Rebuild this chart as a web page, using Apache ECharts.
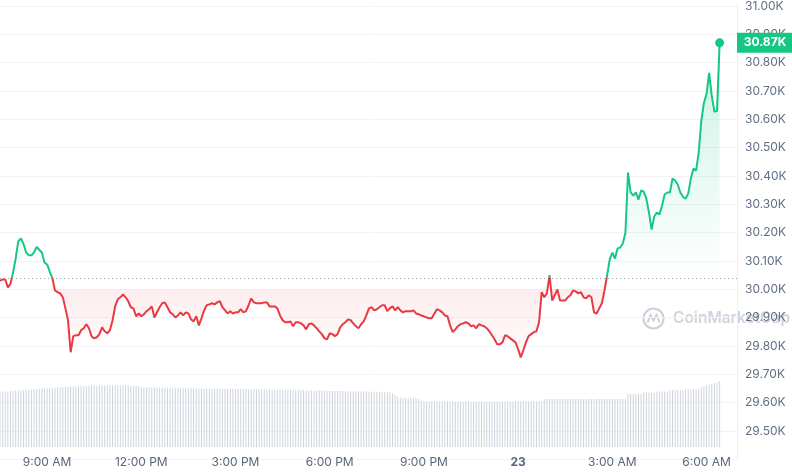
<!DOCTYPE html>
<html>
<head>
<meta charset="utf-8">
<script src="https://cdn.jsdelivr.net/npm/echarts@6/dist/echarts.min.js"></script>
<style>
html,body{margin:0;padding:0;background:#ffffff;}
#chart{width:792px;height:474px;}
</style>
</head>
<body>
<div id="chart"></div>
<script>
// ---- data ----
// BTC price in thousands USD, one value every 5 minutes starting 7:30 AM
const prices = [
30.03,30.035,30.035,30.007,30.02,30.06,30.11,30.17,30.18,30.16,
30.13,30.12,30.12,30.13,30.15,30.14,30.13,30.095,30.088,30.063,
30.04,29.996,29.99,29.986,29.972,29.933,29.89,29.778,29.835,29.838,
29.838,29.856,29.863,29.877,29.863,29.835,29.827,29.831,29.842,29.866,
29.852,29.845,29.856,29.89,29.94,29.965,29.972,29.982,29.972,29.958,
29.937,29.933,29.905,29.915,29.905,29.912,29.923,29.93,29.94,29.901,
29.919,29.937,29.951,29.954,29.937,29.919,29.912,29.901,29.908,29.919,
29.908,29.919,29.915,29.894,29.887,29.905,29.873,29.898,29.926,29.944,
29.947,29.951,29.947,29.954,29.958,29.937,29.926,29.915,29.923,29.915,
29.919,29.919,29.93,29.919,29.923,29.944,29.968,29.954,29.951,29.951,
29.951,29.954,29.954,29.94,29.94,29.94,29.933,29.908,29.891,29.884,
29.884,29.887,29.87,29.884,29.884,29.88,29.873,29.859,29.877,29.88,
29.873,29.863,29.852,29.842,29.827,29.824,29.845,29.842,29.835,29.842,
29.866,29.877,29.884,29.894,29.891,29.88,29.87,29.863,29.877,29.887,
29.908,29.933,29.937,29.926,29.93,29.937,29.944,29.944,29.923,29.933,
29.94,29.926,29.937,29.926,29.919,29.923,29.923,29.923,29.926,29.915,
29.912,29.908,29.905,29.901,29.898,29.898,29.915,29.93,29.926,29.919,
29.908,29.905,29.873,29.849,29.859,29.87,29.877,29.88,29.884,29.88,
29.87,29.873,29.863,29.877,29.873,29.87,29.863,29.852,29.838,29.824,
29.806,29.806,29.813,29.838,29.835,29.827,29.82,29.813,29.789,29.76,
29.785,29.813,29.835,29.842,29.849,29.852,29.884,29.99,29.972,29.986,
30.05,29.961,29.979,30.0,29.961,29.961,29.961,29.972,29.979,29.996,
29.993,29.986,29.99,29.972,29.968,29.979,29.972,29.919,29.915,29.933,
29.951,29.996,30.049,30.106,30.13,30.109,30.144,30.148,30.162,30.2,
30.412,30.342,30.331,30.342,30.317,30.349,30.345,30.32,30.271,30.211,
30.257,30.271,30.264,30.296,30.335,30.342,30.342,30.391,30.384,30.37,
30.342,30.327,30.32,30.338,30.391,30.426,30.419,30.482,30.595,30.658,
30.69,30.764,30.683,30.627,30.63,30.87
];
// volume (billions USD), same 5-minute steps
const volume = [
13.8,13.8,13.9,13.9,14.0,14.0,14.1,14.1,
14.2,14.2,14.3,14.3,14.4,14.4,14.5,14.5,14.6,14.6,14.7,14.7,14.8,14.8,14.9,14.9,15.0,15.0,
15.0,15.1,15.1,15.1,15.2,15.2,15.2,15.2,15.3,15.3,15.3,15.3,15.3,15.3,15.4,15.4,15.4,15.4,15.4,15.4,15.4,15.4,15.4,15.4,15.3,15.3,15.3,15.3,
14.9,14.9,14.9,14.9,14.9,14.9,14.8,14.8,14.8,14.8,14.8,14.8,14.8,14.8,14.7,14.7,14.7,14.7,14.7,14.7,14.7,14.7,14.6,14.6,14.6,14.6,14.6,14.6,14.6,14.6,14.5,14.5,14.5,14.5,14.5,14.5,
14.5,14.5,14.5,14.5,14.5,14.4,14.4,14.4,14.4,14.4,14.4,14.4,14.4,14.3,14.3,14.3,14.3,14.3,14.3,14.3,14.3,14.2,14.2,14.2,14.2,14.2,14.2,
14.1,14.1,14.1,14.1,14.1,14.1,14.1,14.1,14.0,14.0,14.0,14.0,14.0,14.0,14.0,14.0,13.9,13.9,13.9,13.9,13.9,13.9,13.9,13.9,13.8,13.8,13.8,13.8,13.8,13.7,13.7,13.7,13.7,
13.4,13.0,12.5,12.2,12.2,12.2,12.2,12.2,12.2,12.2,12.0,11.6,
11.4,11.4,11.4,11.4,11.4,11.4,11.4,11.4,11.4,11.4,
11.3,11.3,11.3,11.3,11.3,11.3,11.3,11.3,11.3,11.3,11.3,11.3,11.3,11.3,11.3,11.3,11.3,11.3,11.3,11.3,11.3,11.3,11.3,11.3,11.3,11.3,
11.4,11.4,11.4,11.4,11.4,11.4,11.4,11.4,11.4,11.4,
12.0,12.0,12.0,12.0,12.0,12.0,12.0,12.0,12.0,12.0,12.0,12.0,12.0,12.0,12.0,12.0,
12.0,12.0,12.0,12.0,12.0,12.0,12.0,12.0,12.0,12.0,12.0,12.0,12.0,12.0,12.0,12.0,
13.3,13.3,13.3,13.3,13.3,13.3,13.6,13.6,13.6,13.6,13.6,13.6,
13.9,13.9,13.9,13.9,14.2,14.2,14.2,14.2,14.2,14.2,14.4,14.4,14.4,14.4,14.4,14.4,
15.0,15.2,15.4,15.6,15.8,16.0,16.2,16.5
];
const startHour = 7.5;          // 7:30 AM on the 22nd
const stepHours = 5 / 60;       // 5-minute samples
const openPrice = 30.04;        // dotted reference line
const redFillTop = 30.00;
const xTickHours = [9, 12, 15, 18, 21, 24, 27, 30];
const xTickLabels = ['9:00 AM', '12:00 PM', '3:00 PM', '6:00 PM', '9:00 PM', '23', '3:00 AM', '6:00 AM'];
const yMin = 29.4, yMax = 31.0, yStep = 0.1;
const lastTag = '30.87K';

// ---- build series data ----
const xs = prices.map((_, i) => startHour + i * stepHours);
const pts = prices.map((v, i) => [xs[i], v]);
const volPts = volume.map((v, i) => [xs[i], v]);
const gTop = pts.map(p => [p[0], Math.max(p[1], openPrice)]);
const rBot = pts.map(p => [p[0], Math.min(p[1], redFillTop)]);
const lastPt = pts[pts.length - 1];

const GREEN = '#16c784', RED = '#ea3943';
const FONT = 'Inter';
const xMin = 7.5, xMax = 30.97;

const chart = echarts.init(document.getElementById('chart'), null, {renderer: 'canvas'});
chart.setOption({
  animation: false,
  backgroundColor: '#ffffff',
  textStyle: {fontFamily: FONT},
  grid: [
    {left: 0, right: 55, top: 5, bottom: 14.6},
    {left: 0, right: 55, top: 367, bottom: 27}
  ],
  xAxis: [
    {type: 'value', gridIndex: 0, min: xMin, max: xMax, show: false},
    {type: 'value', gridIndex: 1, min: xMin, max: xMax,
     axisLine: {show: false}, axisTick: {show: false}, splitLine: {show: false},
     axisLabel: {
       customValues: xTickHours,
       color: '#58667e', fontSize: 12, fontFamily: FONT, margin: 9,
       formatter: function (v) {
         const k = xTickHours.indexOf(Math.round(v));
         if (k < 0) return '';
         return xTickHours[k] === 24 ? '{b|' + xTickLabels[k] + '}' : xTickLabels[k];
       },
       rich: {b: {fontWeight: 'bold', color: '#58667e', fontSize: 12, fontFamily: FONT}}
     }}
  ],
  yAxis: [
    {type: 'value', gridIndex: 0, position: 'right', min: yMin, max: yMax, interval: yStep,
     axisLine: {show: true, lineStyle: {color: '#eceff3'}},
     axisTick: {show: false},
     splitLine: {show: true, lineStyle: {color: '#f1f3f6'}},
     axisLabel: {
       color: '#616e85', fontSize: 12, fontFamily: FONT, margin: 8,
       formatter: function (v) { return v < yMin + yStep / 2 ? '' : v.toFixed(2) + 'K'; }
     }},
    {type: 'value', gridIndex: 1, min: 0, max: 20, show: false}
  ],
  series: [
    {id: 'price', type: 'line', data: pts, xAxisIndex: 0, yAxisIndex: 0, showSymbol: false, z: 5,
     lineStyle: {width: 2, color: RED}, itemStyle: {color: RED}, silent: true},
    {type: 'line', data: gTop, showSymbol: false, silent: true,
     lineStyle: {opacity: 0}, z: 2,
     areaStyle: {origin: openPrice, color: new echarts.graphic.LinearGradient(0, 0, 0, 1, [
       {offset: 0, color: 'rgba(22,199,132,0.32)'},
       {offset: 1, color: 'rgba(22,199,132,0.0)'}])},
     markLine: {silent: true, symbol: ['none', 'none'], label: {show: false},
       lineStyle: {color: '#9aa1ad', type: [1, 3], width: 1, opacity: 1},
       data: [{yAxis: openPrice}]}},
    {type: 'line', data: rBot, showSymbol: false, silent: true,
     lineStyle: {opacity: 0}, z: 2,
     areaStyle: {origin: redFillTop, color: new echarts.graphic.LinearGradient(0, 0, 0, 1, [
       {offset: 0, color: 'rgba(234,57,67,0.13)'},
       {offset: 1, color: 'rgba(234,57,67,0.02)'}])}},
    {type: 'scatter', data: [lastPt], symbolSize: 9, itemStyle: {color: GREEN, opacity: 1}, z: 6, silent: true,
     markPoint: {
       silent: true, symbol: 'rect', symbolSize: [56, 20], symbolOffset: [28, 0],
       itemStyle: {color: GREEN, opacity: 1},
       label: {show: true, formatter: lastTag, color: '#ffffff', fontWeight: 'bold',
               fontSize: 12, fontFamily: FONT, position: 'inside'},
       data: [{coord: [xMax, lastPt[1]]}]
     }},
    {type: 'bar', data: volPts, xAxisIndex: 1, yAxisIndex: 1, barWidth: 1,
     itemStyle: {color: '#cdd3dd'}, silent: true}
  ],
  graphic: [{
    type: 'group', left: 641, top: 306, z: 100, silent: true,
    children: [
      {type: 'circle', shape: {cx: 11.5, cy: 11.5, r: 10}, style: {fill: 'none', stroke: '#cdd1d9', lineWidth: 2.2}},
      {type: 'polyline', shape: {points: [[5.5, 15.5], [8.5, 8], [11.5, 13.5], [14.5, 8], [17.5, 15.5]]},
       style: {fill: 'none', stroke: '#cdd1d9', lineWidth: 2}},
      {type: 'text', x: 31, y: 3, style: {text: 'CoinMarketCap', font: '600 15.5px Inter', fill: '#cdd1d9', opacity: 0.95}}
    ]
  }]
});

// colour the price line green above the open price and red below it,
// using the pixel position of openPrice given by the chart's own y scale
const yOpenPx = chart.convertToPixel({gridIndex: 0}, [xMin, openPrice])[1];
const H = chart.getHeight();
const f = Math.min(Math.max(yOpenPx / H, 0), 1);
chart.setOption({
  series: [{
    id: 'price',
    lineStyle: {color: new echarts.graphic.LinearGradient(0, 0, 0, H, [
      {offset: 0, color: GREEN}, {offset: f, color: GREEN},
      {offset: f, color: RED}, {offset: 1, color: RED}], true)}
  }]
});
</script>
</body>
</html>
